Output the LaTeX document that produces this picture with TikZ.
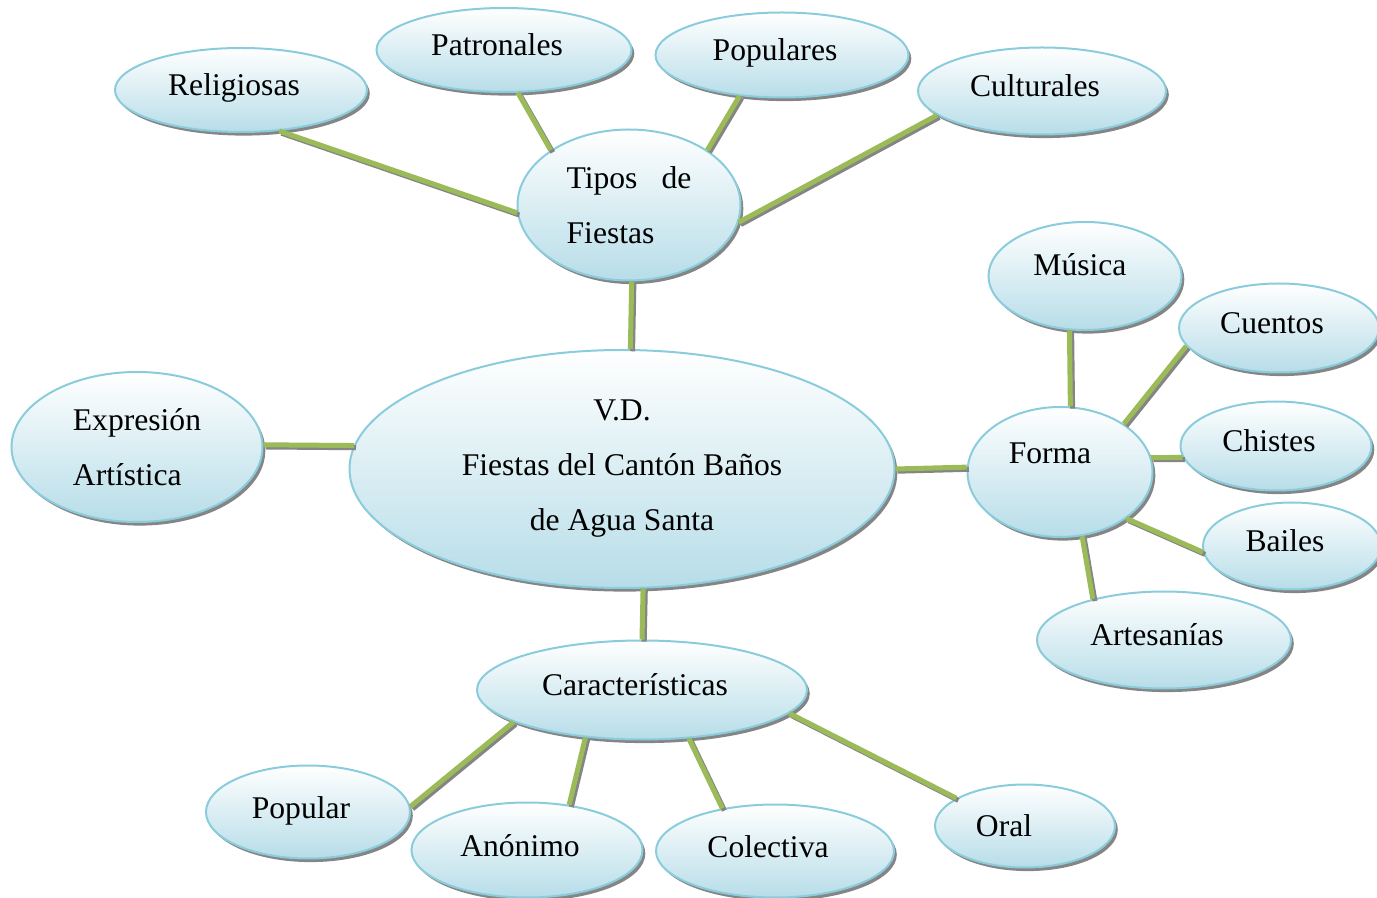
\documentclass[tikz,border=0pt]{standalone}
\usepackage{fontspec}
\setmainfont{Liberation Serif}
\usetikzlibrary{shapes.geometric}
\usetikzlibrary{shadows}
\definecolor{ellblue}{HTML}{B7DDE8}
\definecolor{ellborder}{HTML}{8ACCDC}
\definecolor{linkgreen}{HTML}{9BBB59}
\definecolor{shadowgray}{HTML}{858585}
\tikzset{
  bubble/.style={ellipse, draw=ellborder, line width=1pt, top color=white, bottom color=ellblue,
    inner sep=0pt, align=center, font=\fontsize{15.8}{27.5}\selectfont,
    drop shadow={shadow xshift=1.4pt, shadow yshift=-1.8pt, fill=shadowgray, opacity=1}},
  inset/.style={text height=11pt, text depth=5pt, execute at end node={\hspace{7pt}}},
  link/.style={line width=2.5pt, draw=linkgreen,
    preaction={draw=shadowgray, line width=2.5pt, transform canvas={xshift=1.1pt, yshift=-1.1pt}}},
}
\begin{document}
\begin{tikzpicture}[x=0.5pt, y=-0.5pt]
        \useasboundingbox (0,0) rectangle (1377,898);

        \node [bubble, minimum width=272.5pt, minimum height=119pt] (vd) at (622,469) {V.D.\\Fiestas del Cantón Baños\\de Agua Santa};

        \node [bubble, minimum width=111.5pt, minimum height=75.5pt, align=left] (tipos) at (629,205) {Tipos\hspace{12pt}de\\Fiestas};
        \node [bubble, inset, minimum width=126pt, minimum height=42pt] (relig) at (241,90) {Religiosas};
        \node [bubble, inset, minimum width=127.5pt, minimum height=42pt] (patro) at (504,50) {Patronales};
        \node [bubble, inset, minimum width=126.5pt, minimum height=42.5pt] (popul) at (782,55) {Populares};
        \node [bubble, inset, minimum width=124pt, minimum height=43.5pt] (cultu) at (1042,91) {Culturales};

        \node [bubble, minimum width=125.5pt, minimum height=75pt, align=left] (expr) at (137,447) {Expresión\\Artística};

        \node [bubble, minimum width=92.5pt, minimum height=65pt, text height=11pt, text depth=19.6pt] (forma) at (1060,472) {Forma\hspace{10pt}};
        \node [bubble, minimum width=96.5pt, minimum height=54pt, text height=11pt, text depth=11pt] (musica) at (1085,276) {Música\hspace{5pt}};
        \node [bubble, inset, minimum width=100pt, minimum height=44.5pt] (cuentos) at (1279,328) {Cuentos};
        \node [bubble, inset, minimum width=95.5pt, minimum height=44.5pt] (chistes) at (1276,446) {Chistes};
        \node [bubble, inset, minimum width=89pt, minimum height=43.5pt] (bailes) at (1292,546) {Bailes};
        \node [bubble, inset, minimum width=127pt, minimum height=48.5pt] (artes) at (1164,640) {Artesanías};

        \node [bubble, inset, minimum width=165pt, minimum height=49.5pt] (carac) at (642,690) {Características};
        \node [bubble, inset, minimum width=102pt, minimum height=46.5pt] (popular) at (308,812) {Popular};
        \node [bubble, inset, minimum width=115.5pt, minimum height=47.5pt] (anon) at (527,850) {Anónimo};
        \node [bubble, inset, minimum width=119pt, minimum height=46.5pt] (colec) at (775,851) {Colectiva};
        \node [bubble, minimum width=90pt, minimum height=41.5pt] (oral) at (1025,826) {Oral\hspace{21pt}};

        \draw [link] (relig.-47) -- (tipos.184);
        \draw [link] (patro.-72) -- (tipos.145);
        \draw [link] (popul.224) -- (tipos.35);
        \draw [link] (cultu.193) -- (tipos.-9);
        \draw [link] (tipos.-88) -- (vd.86);

        \draw [link] (expr.1) -- (vd.175);
        \draw [link] (vd.0) -- (forma.177);
        \draw [link] (vd.-80) -- (carac.90);

        \draw [link] (forma.81) -- (musica.254);
        \draw [link] (forma.37) -- (cuentos.191);
        \draw [link] (forma.9) -- (chistes.187);
        \draw [link] (forma.-35) -- (bailes.184);
        \draw [link] (forma.-71) -- (artes.150);

        \draw [link] (carac.194) -- (popular.3);
        \draw [link] (carac.220) -- (anon.47);
        \draw [link] (carac.-46) -- (colec.141);
        \draw [link] (carac.-9) -- (oral.158);
    \end{tikzpicture}
\end{document}
